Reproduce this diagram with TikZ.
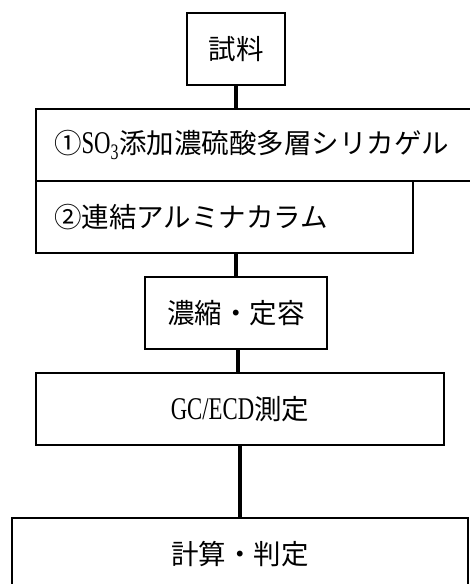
\documentclass[tikz,border=0pt]{standalone}
\usepackage{fontspec}
\setmainfont{Noto Sans CJK JP}
\newfontfamily\latinf[Scale=1.15,FakeStretch=0.72]{Liberation Serif}
\begin{document}
\begin{tikzpicture}[x=1pt,y=1pt,
  box/.style={draw,line width=2pt,minimum height=72pt,inner sep=0pt,outer sep=0pt,
    font=\fontsize{27.5}{32}\selectfont},
  lbox/.style={box,align=left,inner xsep=18pt},
  conn/.style={line width=4.5pt}]
\useasboundingbox (0,0) rectangle (470,584);
\clip (0,0) rectangle (470,584);
\node[box,minimum width=98pt] (b1) at (236,535) {試料};
\node[lbox,text width=404pt] (b2) at (256,439) {①{\latinf SO\textsubscript{3}}添加濃硫酸多層シリカゲル};
\node[lbox,text width=341pt] (b3) at (224.5,367) {②連結アルミナカラム};
\node[box,minimum width=182pt] (b4) at (236,271) {濃縮・定容};
\node[box,minimum width=408pt] (b5) at (240,175) {{\latinf GC/ECD}測定};
\node[box,minimum width=456pt] (b6) at (240,30) {計算・判定};
\draw[conn] (b1.south) -- (b1.south |- b2.north);
\draw[conn] (b4.north) -- (b4.north |- b3.south);
\draw[conn] ([xshift=2pt]b4.south) -- ([xshift=2pt]b4.south |- b5.north);
\draw[conn] (b6.north) -- (b6.north |- b5.south);
\end{tikzpicture}
\end{document}
